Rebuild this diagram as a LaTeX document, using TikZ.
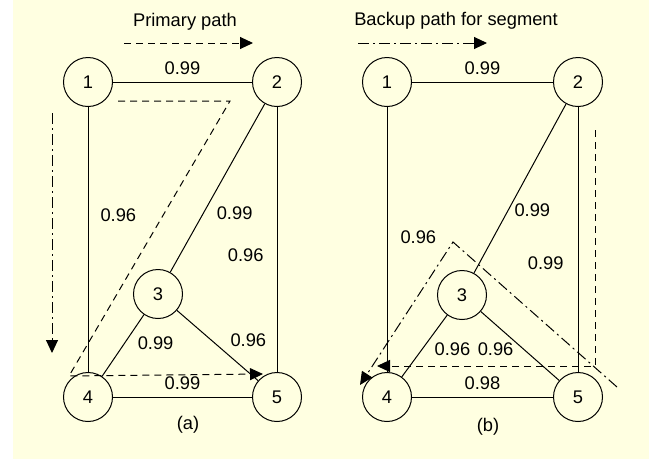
\documentclass[tikz,border=0pt]{standalone}
\usepackage{fontspec}
\setmainfont{Liberation Sans}
\usepackage{xcolor}
\usetikzlibrary{arrows.meta, positioning}
\definecolor{paper}{RGB}{255,255,225}

\begin{document}
\begin{tikzpicture}[
  x=1pt, y=-1pt,
  font=\fontsize{18.3}{22}\selectfont,
  vertex/.style={draw, circle, line width=1pt, minimum size=49pt, inner sep=0pt},
  link/.style={line width=1pt},
  wt/.style={inner sep=1pt},
  tip/.style={-{Triangle[length=13pt, width=12pt]}},
  primary/.style={tip, line width=1pt, dash pattern=on 7pt off 5pt},
  backup/.style={tip, line width=1pt, dash pattern=on 11pt off 4pt on 2pt off 4pt}
]
  \useasboundingbox (0,0) rectangle (649,459);
  \fill[paper] (13,0) rectangle (649,459);

  % (a) primary path
  \node[vertex] (a1) at (88,82)   {1};
  \node[vertex] (a2) at (277,82)  {2};
  \node[vertex] (a3) at (158,294) {3};
  \node[vertex] (a4) at (88,397)  {4};
  \node[vertex] (a5) at (277,397) {5};

  \draw[link] (a1) -- node[above=6pt, wt]{0.99} (a2);
  \draw[link] (a1) -- node[pos=0.41, right=11pt, wt]{0.96} (a4);
  \draw[link] (a2) -- node[pos=0.65, right=12pt, wt]{0.99} (a3);
  \draw[link] (a2) -- node[pos=0.56, left=12pt, wt]{0.96} (a5);
  \draw[link] (a3) -- node[pos=0.47, right=12pt, wt]{0.99} (a4);
  \draw[link] (a3) -- node[pos=0.42, right=18pt, wt]{0.96} (a5);
  \draw[link] (a4) -- node[above=6pt, wt]{0.99} (a5);
  \node (capa) at (188,425) {(a)};

  \node (keya) at (185,22) {Primary path};
  \coordinate (keya-s) at (124,43);
  \coordinate (keya-e) at (253,43);
  \draw[primary] (keya-s) -- (keya-e);

  \coordinate (pa1) at (118,101);
  \coordinate (pa2) at (230,101);
  \coordinate (pa3) at (69,376);
  \coordinate (pa4) at (263,374);
  \draw[primary] (pa1) -- (pa2) -- (pa3) -- (pa4);

  \coordinate (ba1) at (52,113);
  \coordinate (ba2) at (52,353);
  \draw[backup] (ba1) -- (ba2);

  % (b) backup path for segment
  \node[vertex] (b1) at (387,82)  {1};
  \node[vertex] (b2) at (578,82)  {2};
  \node[vertex] (b3) at (462,295) {3};
  \node[vertex] (b4) at (387,397) {4};
  \node[vertex] (b5) at (578,397) {5};

  \draw[link] (b1) -- node[above=6pt, wt]{0.99} (b2);
  \draw[link] (b1) -- node[pos=0.49, right=12pt, wt]{0.96} (b4);
  \draw[link] (b2) -- node[pos=0.63, right=5pt, wt]{0.99} (b3);
  \draw[link] (b2) -- node[pos=0.59, left=13pt, wt]{0.99} (b5);
  \draw[link] (b3) -- node[pos=0.55, right=11pt, wt]{0.96} (b4);
  \draw[link] (b3) -- node[pos=0.55, left=9pt, wt]{0.96} (b5);
  \draw[link] (b4) -- node[above=6pt, wt]{0.98} (b5);
  \node (capb) at (488,427) {(b)};

  \node (keyb) at (456,21) {Backup path for segment};
  \coordinate (keyb-s) at (358,43);
  \coordinate (keyb-e) at (487,43);
  \draw[backup] (keyb-s) -- (keyb-e);

  \coordinate (pb1) at (595,130);
  \coordinate (pb2) at (595,366);
  \coordinate (pb3) at (377,366);
  \draw[primary] (pb1) -- (pb2) -- (pb3);

  \coordinate (bb1) at (617,387);
  \coordinate (bb2) at (453,242);
  \coordinate (bb3) at (360,385);
  \draw[backup] (bb1) -- (bb2) -- (bb3);
\end{tikzpicture}
\end{document}
